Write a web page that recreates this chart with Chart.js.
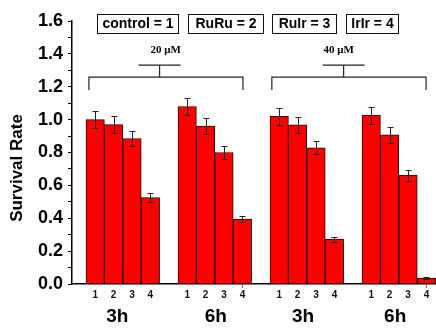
<!DOCTYPE html>
<html>
<head>
<meta charset="utf-8">
<script src="https://cdn.jsdelivr.net/npm/chart.js@4.4.1/dist/chart.umd.min.js"></script>
<style>
    html, body { margin: 0; padding: 0; background: #fff; }
    #wrap { width: 436px; height: 328px; position: relative; }
</style>
</head>
<body>
<div id="wrap"><canvas id="survival-chart"></canvas></div>
<script>
(function() {
    'use strict';

    // survival rate per group (bars 1..4)
    const rate3h20 = [1.00, 0.97, 0.885, 0.525];
    const rate6h20 = [1.08, 0.96, 0.80, 0.395];
    const rate3h40 = [1.02, 0.968, 0.828, 0.273];
    const rate6h40 = [1.027, 0.907, 0.662, 0.036];

    const err3h20 = [0.05, 0.05, 0.043, 0.026];
    const err6h20 = [0.053, 0.05, 0.04, 0.02];
    const err3h40 = [0.05, 0.05, 0.04, 0.015];
    const err6h40 = [0.052, 0.047, 0.033, 0.004];

    const barLabels = ['1', '2', '3', '4'];
    const groupLabels = ['3h', '6h', '3h', '6h'];
    const doseLabels = ['20 μM', '40 μM'];
    const compoundLabels = ['control = 1', 'RuRu = 2', 'RuIr = 3', 'IrIr = 4'];
    const yTitle = 'Survival Rate';

    const SANS = '"Liberation Sans", Arial, sans-serif';
    const SERIF = '"Liberation Serif", "Times New Roman", serif';

    const groups = [rate3h20, rate6h20, rate3h40, rate6h40];
    const errors = [err3h20, err6h20, err3h40, err6h40];

    // each group takes 4 slots plus one empty slot
    const points = [];
    const errFlat = [];
    groups.forEach((vals, g) => {
        vals.forEach((v, b) => {
            points.push({ x: 1 + 5 * g + b, y: v });
            errFlat.push(errors[g][b]);
        });
    });
    const barPositions = points.map(p => p.x);
    const groupLabelPos = [2.2, 7.55, 12.3, 17.3];

    const errorBars = {
        id: 'errorBars',
        afterDatasetsDraw(chart) {
            const ctx = chart.ctx;
            const y = chart.scales.y;
            const meta = chart.getDatasetMeta(0);
            ctx.save();
            ctx.strokeStyle = '#222';
            ctx.lineWidth = 1;
            meta.data.forEach((bar, i) => {
                const v = points[i].y;
                const e = errFlat[i];
                const top = Math.round(y.getPixelForValue(v + e)) + 0.5;
                const bot = Math.round(y.getPixelForValue(v - e)) + 0.5;
                const x = Math.round(bar.x) + 0.5;
                ctx.beginPath();
                ctx.moveTo(x, top); ctx.lineTo(x, bot);
                ctx.moveTo(x - 3, top); ctx.lineTo(x + 3, top);
                ctx.moveTo(x - 3, bot); ctx.lineTo(x + 3, bot);
                ctx.stroke();
            });
            ctx.restore();
        }
    };

    const annotations = {
        id: 'annotations',
        afterDraw(chart) {
            const ctx = chart.ctx;
            const xs = chart.scales.x;
            const ys = chart.scales.y;
            ctx.save();

            // dose brackets
            const spans = [[0.66, 9.03, 4.5, 4.83], [10.6, 18.98, 14.5, 14.23]];
            ctx.strokeStyle = '#222';
            ctx.lineWidth = 1.2;
            spans.forEach((s, i) => {
                const xl = xs.getPixelForValue(s[0]);
                const xr = xs.getPixelForValue(s[1]);
                const xm = xs.getPixelForValue(s[2]);
                const yb = ys.getPixelForValue(1.259);
                const yd = ys.getPixelForValue(1.18);
                const yt = ys.getPixelForValue(1.332);
                ctx.beginPath();
                ctx.moveTo(xl, yd); ctx.lineTo(xl, yb); ctx.lineTo(xr, yb); ctx.lineTo(xr, yd);
                ctx.moveTo(xm, yb); ctx.lineTo(xm, yt);
                ctx.moveTo(xm - 21, yt); ctx.lineTo(xm + 21, yt);
                ctx.stroke();
                ctx.fillStyle = '#000';
                ctx.font = 'bold 11px ' + SERIF;
                ctx.textAlign = 'center';
                ctx.textBaseline = 'middle';
                ctx.fillText(doseLabels[i], xs.getPixelForValue(s[3]), ys.getPixelForValue(1.423));
            });

            // compound key boxes
            const lefts = [97, 188, 272, 346];
            const widths = [81, 75, 64, 52];
            ctx.font = 'bold 14px ' + SANS;
            ctx.lineWidth = 1;
            ctx.strokeStyle = '#111';
            compoundLabels.forEach((t, i) => {
                ctx.strokeRect(lefts[i] + 0.5, 14.5, widths[i], 19);
                ctx.fillStyle = '#000';
                ctx.textAlign = 'center';
                ctx.textBaseline = 'middle';
                ctx.fillText(t, lefts[i] + widths[i] / 2 + 0.5, 24.5);
            });

            // y axis title
            ctx.translate(17, 168);
            ctx.rotate(-Math.PI / 2);
            ctx.font = 'bold 17px ' + SANS;
            ctx.fillText(yTitle, 0, 0);
            ctx.restore();
        }
    };

    function initChart() {
        const canvas = document.getElementById('survival-chart');
        if (!canvas) return;

        new Chart(canvas, {
            type: 'bar',
            data: {
                datasets: [{
                    data: points,
                    backgroundColor: '#ff0000',
                    borderColor: '#220000',
                    borderWidth: 1,
                    barPercentage: 1,
                    categoryPercentage: 1,
                }],
            },
            options: {
                responsive: true,
                maintainAspectRatio: false,
                devicePixelRatio: 1,
                animation: false,
                layout: { padding: { top: 21, right: 0, left: 0, bottom: 0 } },
                plugins: { legend: { display: false }, tooltip: { enabled: false } },
                scales: {
                    x: {
                        type: 'linear',
                        position: 'bottom',
                        min: -0.26,
                        max: 19.52,
                        bounds: 'data',
                        offset: false,
                        afterBuildTicks: scale => {
                            scale.ticks = barPositions.map(v => ({ value: v }));
                        },
                        afterFit: scale => { scale.height = 18; },
                        border: { display: true, color: '#000', width: 1.5 },
                        grid: {
                            offset: false,
                            drawOnChartArea: false,
                            tickLength: 4,
                            color: ctx => (ctx.tick && (ctx.tick.value === 9 || ctx.tick.value === 19)) ? '#666' : 'rgba(0,0,0,0)',
                        },
                        ticks: {
                            autoSkip: false,
                            maxRotation: 0,
                            padding: 1,
                            color: '#111',
                            font: { family: SANS, size: 10, weight: 'bold' },
                            callback: (value, index) => barLabels[index % 4],
                        },
                    },
                    x2: {
                        type: 'linear',
                        position: 'bottom',
                        min: -0.26,
                        max: 19.52,
                        bounds: 'data',
                        offset: false,
                        afterBuildTicks: scale => {
                            scale.ticks = groupLabelPos.map(v => ({ value: v }));
                        },
                        afterFit: scale => { scale.height = 26; },
                        border: { display: false },
                        grid: { display: false },
                        ticks: {
                            autoSkip: false,
                            maxRotation: 0,
                            padding: -5,
                            color: '#000',
                            font: { family: SANS, size: 19, weight: 'bold' },
                            callback: (value, index) => groupLabels[index],
                        },
                    },
                    y: {
                        min: 0,
                        max: 1.6,
                        afterFit: scale => { scale.width = 72; },
                        border: { display: true, color: '#000', width: 1.5 },
                        grid: { drawOnChartArea: false, tickLength: 4, color: '#000' },
                        ticks: {
                            stepSize: 0.1,
                            autoSkip: false,
                            padding: 5,
                            color: '#000',
                            font: { family: SANS, size: 18, weight: 'bold' },
                            callback: (value, index) => index % 2 === 0 ? value.toFixed(1) : '',
                        },
                    },
                },
            },
            plugins: [errorBars, annotations],
        });
    }

    if (document.readyState === 'loading') {
        document.addEventListener('DOMContentLoaded', initChart);
    } else {
        initChart();
    }
})();
</script>
</body>
</html>
